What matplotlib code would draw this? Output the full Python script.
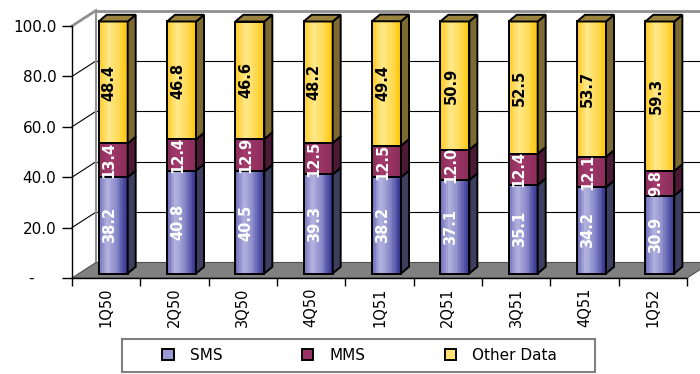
import matplotlib
matplotlib.use('Agg')
import matplotlib.pyplot as plt
import matplotlib.transforms as mtransforms
from matplotlib.patches import Polygon, Rectangle, Patch
from matplotlib.colors import LinearSegmentedColormap
import numpy as np

# the reference text is wide, so DejaVu Sans is the closest fit
plt.rcParams['font.family'] = ['DejaVu Sans']

# data (share of revenue, %)
quarters = ['1Q50', '2Q50', '3Q50', '4Q50', '1Q51', '2Q51', '3Q51', '4Q51', '1Q52']
sms = [38.2, 40.8, 40.5, 39.3, 38.2, 37.1, 35.1, 34.2, 30.9]
mms = [13.4, 12.4, 12.9, 12.5, 12.5, 12.0, 12.4, 12.1, 9.8]
other = [48.4, 46.8, 46.6, 48.2, 49.4, 50.9, 52.5, 53.7, 59.3]
y_ticks = [0, 20, 40, 60, 80, 100]

# colours: front gradient, side face, label colour
sms_cmap = LinearSegmentedColormap.from_list(
    'sms', [(0, '#6a6ab8'), (0.3, '#b4b4e0'), (0.6, '#8c8ccc'), (1, '#2c2c8c')])
mms_cmap = LinearSegmentedColormap.from_list(
    'mms', [(0, '#8a2c5a'), (0.35, '#a23a6c'), (1, '#8a2c5a')])
other_cmap = LinearSegmentedColormap.from_list(
    'other', [(0, '#ffca20'), (0.35, '#ffe88a'), (0.7, '#ffda55'), (1, '#ffc400')])

series = [
    ('SMS', sms, sms_cmap, '#3e3e5e', 'white', '#9a9ad4'),
    ('MMS', mms, mms_cmap, '#4d1a35', 'white', '#993366'),
    ('Other Data', other, other_cmap, '#7d6a32', 'black', '#ffe070'),
]

fig = plt.figure(figsize=(7, 3.74), dpi=100)
ax = fig.add_axes([72 / 700, 96 / 374, 615 / 700, 252 / 374])
ax.set_autoscale_on(False)
ax.set_xlim(-0.5, len(quarters) - 0.5)
ax.set_ylim(0, 100)

ident = mtransforms.IdentityTransform()
wall = np.array([24, 15.5])        # depth of the walls, pixels
bar_shift = (7, 4.5)               # bar front relative to the axis plane
bar_depth = np.array([8, 6.7])     # depth of a bar
bar_tr = ax.transData + mtransforms.Affine2D().translate(*bar_shift)
label_tr = ax.transData + mtransforms.Affine2D().translate(3, 4.5)
width = 0.425
n_slices = 16


def to_px(x, y):
    return ax.transData.transform((x, y))


x0, x1 = -0.5, len(quarters) - 0.5

# back wall and side wall gridlines
for v in y_ticks[1:]:
    a = to_px(x0, v)
    b = to_px(x1, v)
    col = '#909090' if v == 100 else 'black'
    lw = 2 if v == 100 else 0.8
    ax.plot([a[0] + wall[0], b[0] + wall[0]], [a[1] + wall[1], b[1] + wall[1]],
            transform=ident, color=col, lw=lw, clip_on=False, zorder=1)
    ax.plot([a[0], a[0] + wall[0]], [a[1], a[1] + wall[1]],
            transform=ident, color=col, lw=lw, clip_on=False, zorder=1)
a = to_px(x0, 0)
b = to_px(x0, 100)
ax.plot([a[0] + wall[0], b[0] + wall[0]], [a[1] + wall[1], b[1] + wall[1]],
        transform=ident, color='#909090', lw=1.5, clip_on=False, zorder=1)

# floor
f0 = to_px(x0, 0)
f1 = to_px(x1, 0)
floor = Polygon([f0, f1, f1 + wall, f0 + wall], closed=True, transform=ident,
                facecolor='#808080', edgecolor='#505050', lw=0.8, zorder=1.5,
                clip_on=False)
ax.add_patch(floor)

# stacked 3d bars
x = np.arange(len(quarters))
bottom = np.zeros(len(quarters))
for s, (name, vals, cmap, side_col, txt_col, _) in enumerate(series):
    vals = np.array(vals)
    for k in range(n_slices):
        sw = width / n_slices
        ax.bar(x - width / 2 + (k + 0.5) * sw, vals, width=sw * 1.02, bottom=bottom,
               color=cmap((k + 0.5) / n_slices), linewidth=0, transform=bar_tr,
               zorder=3, clip_on=False)
    ax.bar(x, vals, width=width, bottom=bottom, fill=False, edgecolor='black',
           linewidth=1.4, transform=bar_tr, zorder=4, clip_on=False)
    for i in range(len(quarters)):
        p0 = bar_tr.transform((x[i] + width / 2, bottom[i]))
        p1 = bar_tr.transform((x[i] + width / 2, bottom[i] + vals[i]))
        side = Polygon([p0, p1, p1 + bar_depth, p0 + bar_depth], closed=True,
                       transform=ident, facecolor=side_col, edgecolor='black',
                       lw=1.4, zorder=4, clip_on=False)
        ax.add_patch(side)
        if s == len(series) - 1:
            q0 = bar_tr.transform((x[i] - width / 2, bottom[i] + vals[i]))
            top = Polygon([q0, p1, p1 + bar_depth, q0 + bar_depth], closed=True,
                          transform=ident, facecolor='#9a8440', edgecolor='black',
                          lw=1.4, zorder=4, clip_on=False)
            ax.add_patch(top)
        ax.text(x[i], bottom[i] + vals[i] / 2, f'{vals[i]:.1f}', transform=label_tr,
                rotation=90, ha='center', va='center', fontsize=10.5,
                fontweight='bold', color=txt_col, zorder=5)
    bottom = bottom + vals

# axes
for sp in ['top', 'right']:
    ax.spines[sp].set_visible(False)
for sp in ['left', 'bottom']:
    ax.spines[sp].set_color('black')
    ax.spines[sp].set_linewidth(1)
    ax.spines[sp].set_zorder(2)

ax.set_yticks(y_ticks)
ax.set_yticklabels(['' if v == 0 else f'{v:.1f}' for v in y_ticks])
ax.tick_params(axis='y', length=7.2, width=1, pad=4, labelsize=11)
ax.annotate('-', xy=(x0, 0), xytext=(-41, 0), textcoords='offset pixels',
            ha='center', va='center', fontsize=11)

ax.set_xticks(np.arange(-0.5, len(quarters), 1))
ax.set_xticklabels([])
ax.set_xticks(x, minor=True)
ax.set_xticklabels(quarters, minor=True, rotation=90)
ax.tick_params(axis='x', which='major', length=5.5, width=1)
ax.tick_params(axis='x', which='minor', length=0, pad=7, labelsize=10.5)

# legend
handles = [Patch(facecolor=c, edgecolor='black', linewidth=1.4, label=n)
           for n, _, _, _, _, c in series]
fig.legend(handles=handles, loc='center', bbox_to_anchor=(359.5 / 700, 19 / 374),
           ncol=3, frameon=False, fontsize=11, handlelength=0.75,
           handleheight=0.75, handletextpad=1.05, columnspacing=5.2)
fig.add_artist(Rectangle((122 / 700, 2 / 374), 473 / 700, 33 / 374,
                         transform=fig.transFigure, fill=False,
                         edgecolor='#808080', lw=1.5))

plt.savefig('out.png', dpi=100, facecolor='white')
